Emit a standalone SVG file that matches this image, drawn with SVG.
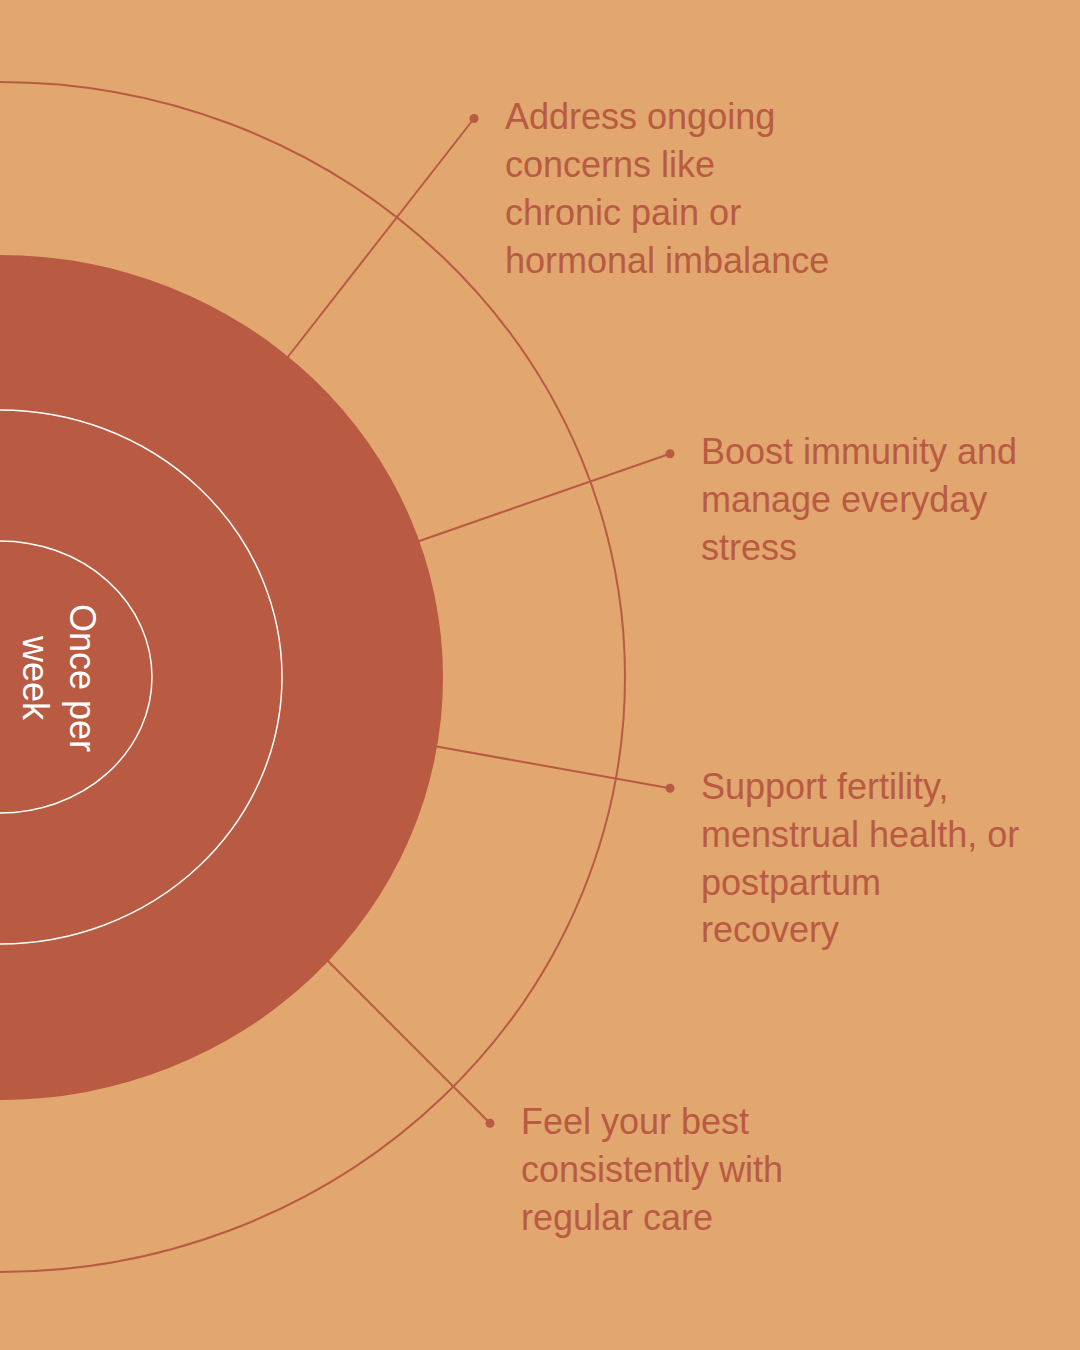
<svg xmlns="http://www.w3.org/2000/svg" width="1080" height="1350" viewBox="0 0 1080 1350">
  <style>
    .lbl { font-family: "Liberation Sans", Arial, sans-serif; font-size: 36px; fill: #B95A42; }
    .center { font-family: "Liberation Sans", Arial, sans-serif; font-size: 36px; fill: #FFFFFF; text-anchor: middle; }
    .conn { stroke: #B95A42; stroke-width: 2; fill: none; }
    .dot { fill: #B95A42; }
    .ring { fill: none; stroke: #FFFFFF; stroke-width: 1.5; }
  </style>
  <rect x="0" y="0" width="1080" height="1350" fill="#E2A66F"/>
  <g id="outer-ring">
    <ellipse cx="0" cy="677" rx="625" ry="595" fill="none" stroke="#B95A42" stroke-width="2"/>
  </g>
  <g id="connectors">
    <line class="conn" x1="474" y1="118.5" x2="280" y2="367"/>
    <circle class="dot" cx="474" cy="118.5" r="4.5"/>
    <line class="conn" x1="670" y1="453.7" x2="405" y2="546"/>
    <circle class="dot" cx="670" cy="453.7" r="4.5"/>
    <line class="conn" x1="670" y1="788.3" x2="420" y2="743.5"/>
    <circle class="dot" cx="670" cy="788.3" r="4.5"/>
    <line class="conn" x1="490" y1="1123.3" x2="318" y2="951"/>
    <circle class="dot" cx="490" cy="1123.3" r="4.5"/>
  </g>
  <g id="core">
    <ellipse cx="0" cy="677.5" rx="443" ry="422.5" fill="#B95A42"/>
    <ellipse class="ring" cx="0" cy="677" rx="282" ry="267"/>
    <ellipse class="ring" cx="0" cy="677" rx="152" ry="136"/>
    <text class="center" transform="translate(70,678) rotate(90)"><tspan x="0" y="0">Once per</tspan><tspan x="0" y="47">week</tspan></text>
  </g>
  <g id="label-1">
    <text class="lbl"><tspan x="505" y="129.3">Address ongoing</tspan><tspan x="505" y="177.3">concerns like</tspan><tspan x="505" y="225.3">chronic pain or</tspan><tspan x="505" y="273.3">hormonal imbalance</tspan></text>
  </g>
  <g id="label-2">
    <text class="lbl"><tspan x="701" y="464.3">Boost immunity and</tspan><tspan x="701" y="512">manage everyday</tspan><tspan x="701" y="559.7">stress</tspan></text>
  </g>
  <g id="label-3">
    <text class="lbl"><tspan x="701" y="799.3">Support fertility,</tspan><tspan x="701" y="847">menstrual health, or</tspan><tspan x="701" y="894.7">postpartum</tspan><tspan x="701" y="942.4">recovery</tspan></text>
  </g>
  <g id="label-4">
    <text class="lbl"><tspan x="521" y="1134.3">Feel your best</tspan><tspan x="521" y="1182">consistently with</tspan><tspan x="521" y="1229.7">regular care</tspan></text>
  </g>
</svg>
